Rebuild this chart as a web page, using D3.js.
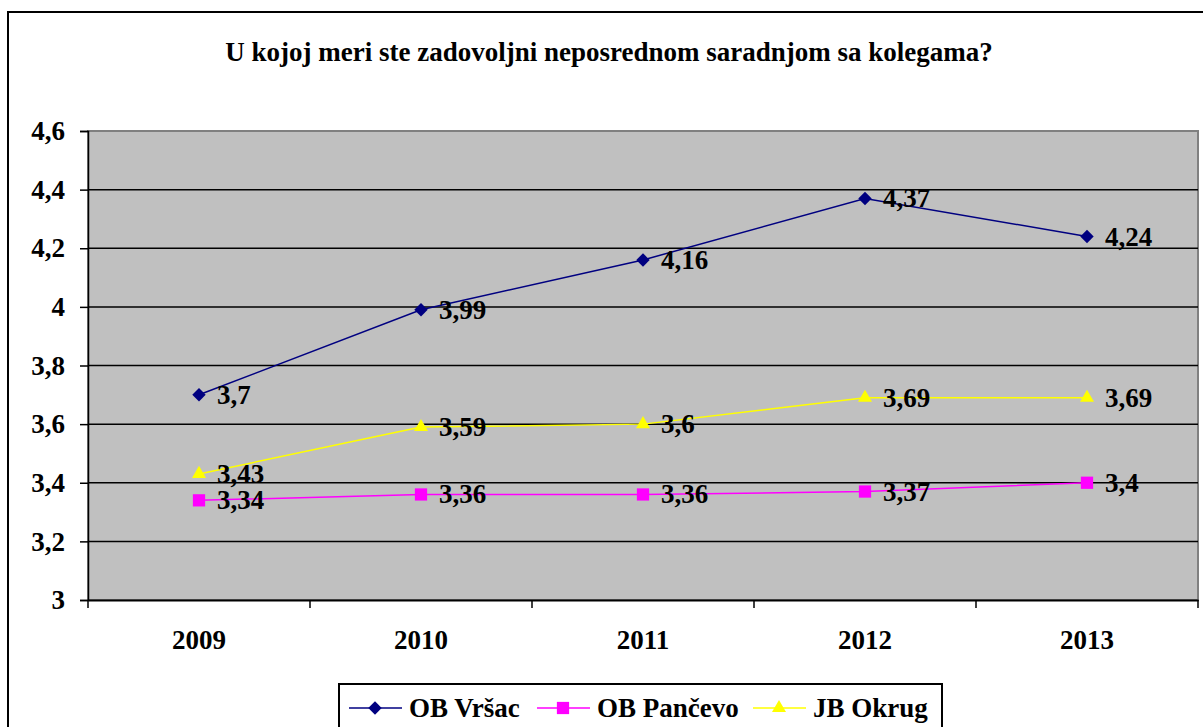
<!DOCTYPE html>
<head>
<meta charset="utf-8">
<script src="https://d3js.org/d3.v7.min.js"></script>
<style>
	body { margin: 0; background: #fff; }
</style>
</head>
<body>
<script>
// data
let years = ["2009", "2010", "2011", "2012", "2013"];
let vrsac = [3.7, 3.99, 4.16, 4.37, 4.24];
let pancevo = [3.34, 3.36, 3.36, 3.37, 3.4];
let okrug = [3.43, 3.59, 3.6, 3.69, 3.69];
let yTicks = [3, 3.2, 3.4, 3.6, 3.8, 4, 4.2, 4.4, 4.6];
let seriesNames = ["OB Vršac", "OB Pančevo", "JB Okrug"];
let title = "U kojoj meri ste zadovoljni neposrednom saradnjom sa kolegama?";

let w = 1203, h = 727;
let font = '"Liberation Serif"';
let series = [
	{ name: seriesNames[0], values: vrsac, color: "#000080", sym: "diamond" },
	{ name: seriesNames[1], values: pancevo, color: "#FF00FF", sym: "square" },
	{ name: seriesNames[2], values: okrug, color: "#FFFF00", sym: "triangle" }
];

function marker(sel, s) {
	if (s.sym == "diamond") {
		sel.attr("d", d3.symbol().type(d3.symbolSquare).size(90)).attr("transform", function() {
			return d3.select(this).attr("transform") + " rotate(45)";
		});
	} else if (s.sym == "square") {
		sel.attr("d", d3.symbol().type(d3.symbolSquare).size(150));
	} else {
		sel.attr("d", d3.symbol().type(d3.symbolTriangle).size(85));
	}
	sel.attr("fill", s.color);
}

function txt(sel, size) {
	sel.style("font-family", font).style("font-weight", "bold").style("font-size", size + "px").attr("fill", "#000");
}

let svg = d3.select("body").append("svg").attr("width", w).attr("height", h);

// outer frame
svg.append("rect").attr("x", 8).attr("y", 12).attr("width", 1210).attr("height", 730)
	.attr("fill", "#fff").attr("stroke", "#000").attr("stroke-width", 2);

svg.append("text").attr("x", 609).attr("y", 61).attr("text-anchor", "middle")
	.call(txt, 27).text(title);

let x = d3.scaleBand().domain(years).range([88, 1198]);
let y = d3.scaleLinear().domain([3, 4.6]).range([600, 131]);

// plot area
svg.append("rect").attr("x", 88).attr("y", 131).attr("width", 1110).attr("height", 469)
	.attr("fill", "#C0C0C0").attr("stroke", "#808080").attr("stroke-width", 2);

// gridlines
svg.append("g").selectAll("line").data(yTicks.slice(1, -1)).enter().append("line")
	.attr("x1", 88).attr("x2", 1198)
	.attr("y1", d => y(d)).attr("y2", d => y(d))
	.attr("stroke", "#000").attr("stroke-width", 1.5);

// y axis
let yAxis = svg.append("g").attr("transform", "translate(88,0)")
	.call(d3.axisLeft(y).tickValues(yTicks).tickSize(8).tickPadding(15)
		.tickFormat(d => String(d).replace(".", ",")));
yAxis.attr("font-family", null);
yAxis.selectAll("text").call(txt, 27);
yAxis.selectAll("line").attr("stroke", "#000").attr("stroke-width", 1.5);
yAxis.select(".domain").attr("stroke", "#000").attr("stroke-width", 1.5);

// x axis
let xAxis = svg.append("g").attr("transform", "translate(0,600)")
	.call(d3.axisBottom(x).tickSize(0).tickPadding(30));
xAxis.attr("font-family", null);
xAxis.selectAll("text").call(txt, 27);
xAxis.select(".domain").attr("stroke", "#000").attr("stroke-width", 2);
xAxis.append("g").selectAll("line").data(x.range().concat(years.map(d => x(d)).slice(1))).enter()
	.append("line")
	.attr("x1", d => d).attr("x2", d => d).attr("y1", 0).attr("y2", 8)
	.attr("stroke", "#000").attr("stroke-width", 1.5);

let cx = d => x(d) + x.bandwidth() / 2;
let line = d3.line().x((d, i) => cx(years[i])).y(d => y(d));

series.forEach(s => {
	let g = svg.append("g");
	g.append("path").datum(s.values).attr("d", line)
		.attr("fill", "none").attr("stroke", s.color).attr("stroke-width", 1.5);
	g.selectAll("path.m").data(s.values).enter().append("path").attr("class", "m")
		.attr("transform", (d, i) => `translate(${cx(years[i])},${y(d)})`)
		.call(marker, s);
	g.selectAll("text").data(s.values).enter().append("text")
		.attr("x", (d, i) => cx(years[i]) + 18)
		.attr("y", d => y(d) + 9)
		.call(txt, 27)
		.text(d => String(d).replace(".", ","));
});

// legend
let lg = svg.append("g").attr("transform", "translate(339,684)");
lg.append("rect").attr("x", 0).attr("y", 0).attr("width", 603).attr("height", 60)
	.attr("fill", "#fff").attr("stroke", "#000").attr("stroke-width", 2);
let lx = [10, 198, 414];
series.forEach((s, i) => {
	let g = lg.append("g").attr("transform", `translate(${lx[i]},24)`);
	g.append("line").attr("x1", 0).attr("x2", 53).attr("stroke", s.color).attr("stroke-width", 1.5);
	g.append("path").attr("transform", "translate(26,0)").call(marker, s);
	g.append("text").attr("x", 60).attr("y", 9).call(txt, 27).text(s.name);
});
</script>
</body>
</html>
